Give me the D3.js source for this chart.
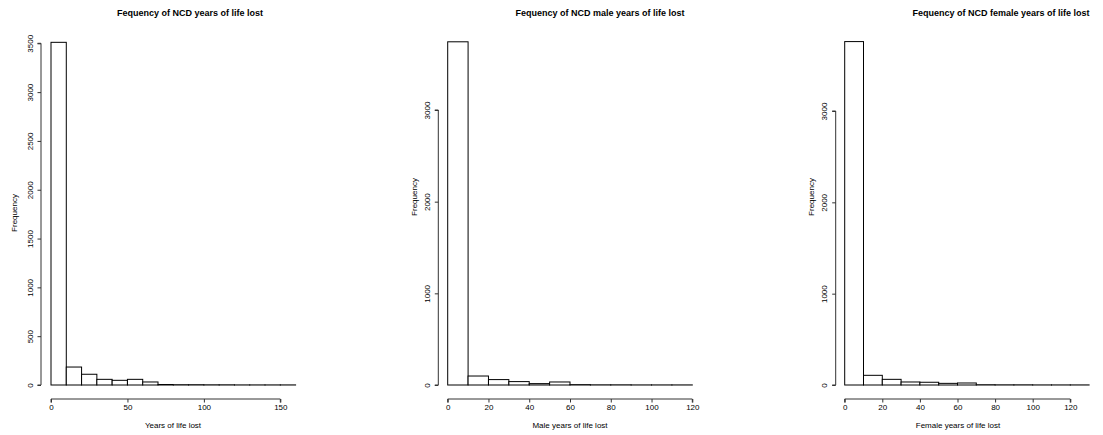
<!DOCTYPE html>
<html><head><meta charset="utf-8">
<script src="https://cdn.jsdelivr.net/npm/d3@7"></script>
<style>
body{margin:0;background:#fff;}
text{font-family:"Liberation Sans",Arial,Helvetica,sans-serif;fill:#000;}
</style></head>
<body><svg id="c" width="1103" height="435"></svg>
<script>
// Data
const titles = ["Fequency of NCD years of life lost","Fequency of NCD male years of life lost","Fequency of NCD female years of life lost"];
const xLabels = ["Years of life lost","Male years of life lost","Female years of life lost"];
const yLabel = "Frequency";
const binWidth = 10;
const counts1 = [3510, 184, 110, 58, 48, 58, 31, 5, 3, 3, 2, 2, 1, 1, 1, 1];
const counts2 = [3744, 98, 59, 37, 15, 33, 4, 2, 2, 1, 1, 1];
const counts3 = [3760, 106, 62, 33, 30, 18, 22, 3, 2, 2, 1, 1, 1];
const xTicks1 = [0, 50, 100, 150];
const xTicks2 = [0, 20, 40, 60, 80, 100, 120];
const xTicks3 = [0, 20, 40, 60, 80, 100, 120];
const yTicks1 = [0, 500, 1000, 1500, 2000, 2500, 3000, 3500];
const yTicks2 = [0, 1000, 2000, 3000];
const yTicks3 = [0, 1000, 2000, 3000];

// Layout
const panels = [
  {counts:counts1, xTicks:xTicks1, yTicks:yTicks1, xd:[0,160], xr:[51,295.6], yd:[0,3500], yr:[385,43.3], axX:41, axY:399, titleX:190, freqX:14, freqY:213, xlabX:173},
  {counts:counts2, xTicks:xTicks2, yTicks:yTicks2, xd:[0,120], xr:[447.7,692.3], yd:[0,3000], yr:[385,110], axX:438.3, axY:399, titleX:600, freqX:414, freqY:197, xlabX:570},
  {counts:counts3, xTicks:xTicks3, yTicks:yTicks3, xd:[0,120], xr:[844.7,1070.3], yd:[0,3000], yr:[385,111], axX:835.7, axY:399, titleX:1001, freqX:811, freqY:197, xlabX:958}
];

const svg = d3.select("#c");
panels.forEach((p, i) => {
  const x = d3.scaleLinear().domain(p.xd).range(p.xr);
  const y = d3.scaleLinear().domain(p.yd).range(p.yr);
  const g = svg.append("g");
  // bars
  g.selectAll("rect").data(p.counts).join("rect")
    .attr("x", (d, k) => x(k * binWidth))
    .attr("width", (d, k) => x((k + 1) * binWidth) - x(k * binWidth))
    .attr("y", d => y(d))
    .attr("height", d => y(0) - y(d))
    .attr("fill", "#fff").attr("stroke", "#000").attr("stroke-width", 1);
  // x axis
  const xa = g.append("g").attr("transform", `translate(0,${p.axY})`)
    .call(d3.axisBottom(x).tickValues(p.xTicks).tickSize(3.5).tickPadding(2).tickFormat(d3.format("d")));
  xa.select(".domain").attr("stroke", "#333").attr("d", `M${x(p.xTicks[0])},3.5V0H${x(p.xTicks[p.xTicks.length-1])}V3.5`);
  xa.selectAll(".tick line").attr("stroke", "#333");
  xa.selectAll("text").attr("font-size", 8).attr("fill", "#222");
  // y axis
  const ya = g.append("g").attr("transform", `translate(${p.axX},0)`)
    .call(d3.axisLeft(y).tickValues(p.yTicks).tickSize(3.5).tickPadding(2).tickFormat(d3.format("d")));
  ya.select(".domain").attr("stroke", "#333").attr("d", `M-3.5,${y(p.yTicks[0])}H0V${y(p.yTicks[p.yTicks.length-1])}H-3.5`);
  ya.selectAll(".tick line").attr("stroke", "#333");
  ya.selectAll(".tick text").attr("font-size", 8).attr("fill", "#222")
    .attr("x", null).attr("dy", null)
    .attr("text-anchor", "middle")
    .attr("transform", "translate(-8.5,0) rotate(-90)");
  // title
  svg.append("text").attr("x", p.titleX).attr("y", 16).attr("text-anchor", "middle")
    .attr("font-size", 9).attr("font-weight", "bold").text(titles[i]);
  // x label
  svg.append("text").attr("x", p.xlabX).attr("y", 428).attr("text-anchor", "middle")
    .attr("font-size", 8).attr("fill", "#222").text(xLabels[i]);
  // y label
  svg.append("text").attr("transform", `translate(${p.freqX + 3},${p.freqY}) rotate(-90)`)
    .attr("text-anchor", "middle").attr("font-size", 8).attr("fill", "#222").text(yLabel);
});
</script></body></html>
